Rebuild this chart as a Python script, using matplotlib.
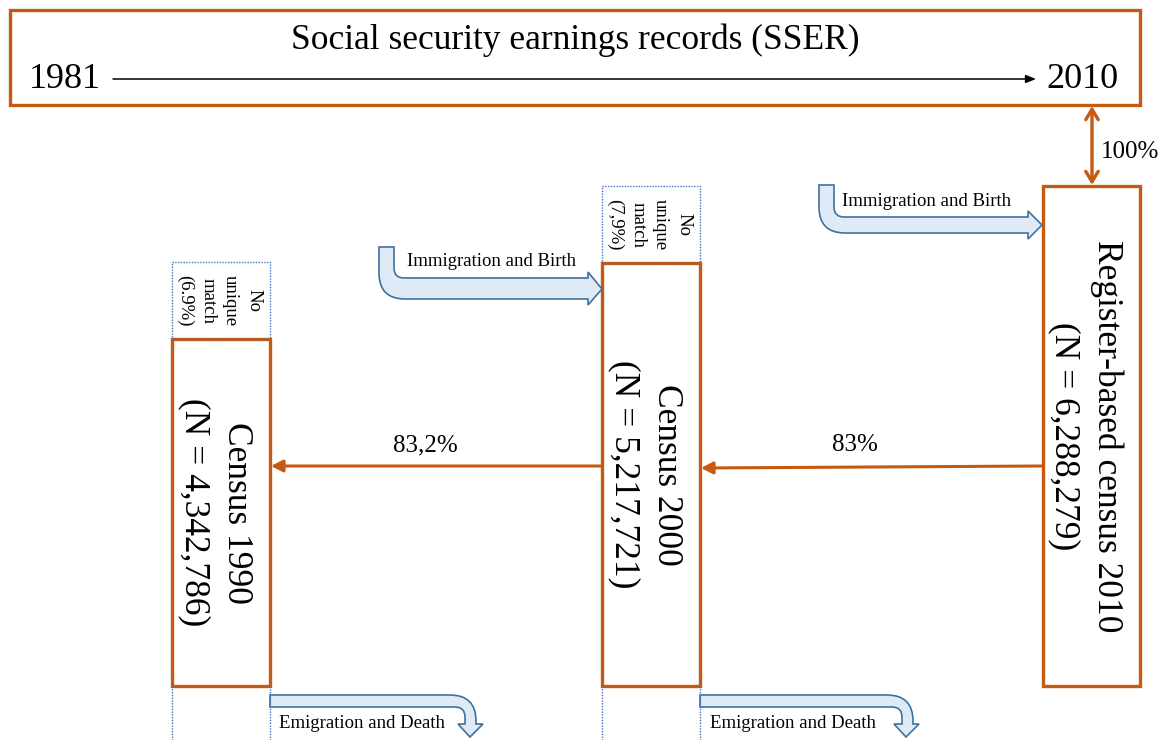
import matplotlib
matplotlib.use("Agg")
import matplotlib.pyplot as plt
from matplotlib.patches import Rectangle, PathPatch, FancyArrowPatch
from matplotlib.path import Path

plt.rcParams['font.family'] = ['Liberation Serif', 'DejaVu Serif']

# ---- content ----
title = "Social security earnings records (SSER)"
years = ["1981", "2010"]
census_names = ["Census 1990", "Census 2000", "Register-based census 2010"]
census_n = ["(N = 4,342,786)", "(N = 5,217,721)", "(N = 6,288,279)"]
no_match = ["No\nunique\nmatch\n(6.9%)", "No\nunique\nmatch\n(7,9%)"]
link_rates = ["83,2%", "83%"]
sser_link = "100%"
inflow_label = "Immigration and Birth"
outflow_label = "Emigration and Death"

ORANGE = "#C55A11"
BLUE = "#4472C4"
FILL = "#DEEBF7"
EDGE = "#41719C"

# layout in pixel units (x from left, y from top)
boxes = [(172, 339, 270, 686), (602, 263, 700, 686), (1043, 186, 1140, 686)]
nm_boxes = [(172, 262, 270, 339), (602, 186, 700, 263)]

fig = plt.figure(figsize=(11.62, 7.40), dpi=100)
ax = fig.add_axes([0, 0, 1, 1])
ax.set_xlim(0, 1162)
ax.set_ylim(740, 0)
ax.axis('off')


def rect(x0, y0, x1, y1, **kw):
    ax.add_patch(Rectangle((x0, y0), x1 - x0, y1 - y0, fill=False, **kw))


# top SSER box
rect(10, 10, 1140, 105, edgecolor=ORANGE, lw=2.4)
ax.text(575, 40, title, fontsize=25.5, ha='center', va='center')
ax.text(65, 79, years[0], fontsize=26, ha='center', va='center')
ax.text(1082, 79, years[1], fontsize=26, ha='center', va='center')
ax.add_patch(FancyArrowPatch((113, 79), (1036, 79), arrowstyle='-|>,head_length=6,head_width=2.4',
                             color='black', lw=1.1, mutation_scale=1, shrinkA=0, shrinkB=0))

# 100% double arrow
ax.add_patch(FancyArrowPatch((1092, 106), (1092, 185), arrowstyle='<->,head_length=7.5,head_width=4.5',
                             color=ORANGE, lw=2.4, mutation_scale=1, shrinkA=0, shrinkB=0))
ax.text(1101, 152, sser_link, fontsize=18, ha='left', va='center')

# census boxes
for (x0, y0, x1, y1), name, n in zip(boxes, census_names, census_n):
    rect(x0, y0, x1, y1, edgecolor=ORANGE, lw=2.4)
    cy = (y0 + y1) / 2
    cx = (x0 + x1) / 2
    ax.text(cx + 15, cy, name, fontsize=25.5, rotation=-90, ha='center', va='center')
    ax.text(cx - 27, cy, n, fontsize=25.5, rotation=-90, ha='center', va='center')

# no unique match boxes
for (x0, y0, x1, y1), lab in zip(nm_boxes, no_match):
    rect(x0, y0, x1, y1, edgecolor=BLUE, lw=1.0, linestyle=(0, (1, 1)))
    ax.text((x0 + x1) / 2 - 2, (y0 + y1) / 2, lab, fontsize=13.5, rotation=-90,
            ha='center', va='center', multialignment='center', linespacing=1.45)

# dotted continuations below the older censuses
for x0, y0, x1, y1 in boxes[:2]:
    for x in (x0, x1):
        ax.plot([x, x], [y1, 740], color=BLUE, lw=1.0, linestyle=(0, (1, 1)))

# linkage arrows between censuses
links = [((1043, 466), (701, 468)), ((602, 466), (271, 466))]
for p0, p1 in links:
    ax.add_patch(FancyArrowPatch(p0, p1, arrowstyle='-|>,head_length=7,head_width=3.6',
                                 color=ORANGE, lw=2.2, mutation_scale=1, shrinkA=0, shrinkB=0))
ax.text(425, 445, link_rates[0], fontsize=18, ha='center', va='center')
ax.text(855, 445, link_rates[1], fontsize=18, ha='center', va='center')


def inflow(xl, xr, ytop, st, sb, ht, hb, hx, tip, r=26, ri=10):
    # bent arrow: down from the top, then right into a box
    verts = [(xl, ytop), (xl, sb - r), (xl, sb), (xl + r, sb), (hx, sb), (hx, hb),
             tip, (hx, ht), (hx, st), (xr + ri, st), (xr, st), (xr, st - ri), (xr, ytop), (xl, ytop)]
    codes = [Path.MOVETO, Path.LINETO, Path.CURVE3, Path.CURVE3, Path.LINETO, Path.LINETO,
             Path.LINETO, Path.LINETO, Path.LINETO, Path.LINETO, Path.CURVE3, Path.CURVE3,
             Path.LINETO, Path.CLOSEPOLY]
    ax.add_patch(PathPatch(Path(verts, codes), facecolor=FILL, edgecolor=EDGE, lw=1.2))


def outflow(x0, st, sb, xl, xr, hy, hl, hr, tip, r=26, ri=10):
    # bent arrow: right out of a box, then down
    verts = [(x0, st), (xr - r, st), (xr, st), (xr, st + r), (xr, hy), (hr, hy), tip,
             (hl, hy), (xl, hy), (xl, sb + ri), (xl, sb), (xl - ri, sb), (x0, sb), (x0, st)]
    codes = [Path.MOVETO, Path.LINETO, Path.CURVE3, Path.CURVE3, Path.LINETO, Path.LINETO,
             Path.LINETO, Path.LINETO, Path.LINETO, Path.LINETO, Path.CURVE3, Path.CURVE3,
             Path.LINETO, Path.CLOSEPOLY]
    ax.add_patch(PathPatch(Path(verts, codes), facecolor=FILL, edgecolor=EDGE, lw=1.2))


inflow(379, 394, 247, 278, 299, 272, 305, 588, (602, 289))
ax.text(407, 262, inflow_label, fontsize=13.5, ha='left', va='center')
inflow(819, 834, 185, 217, 233, 211, 239, 1028, (1042, 225))
ax.text(842, 202, inflow_label, fontsize=13.5, ha='left', va='center')

outflow(270, 695, 707, 465, 476, 724, 458, 483, (470, 737))
ax.text(279, 723, outflow_label, fontsize=13.5, ha='left', va='center')
outflow(700, 695, 707, 902, 913, 724, 894, 919, (906, 737))
ax.text(710, 723, outflow_label, fontsize=13.5, ha='left', va='center')

fig.savefig("out.png", dpi=100)
